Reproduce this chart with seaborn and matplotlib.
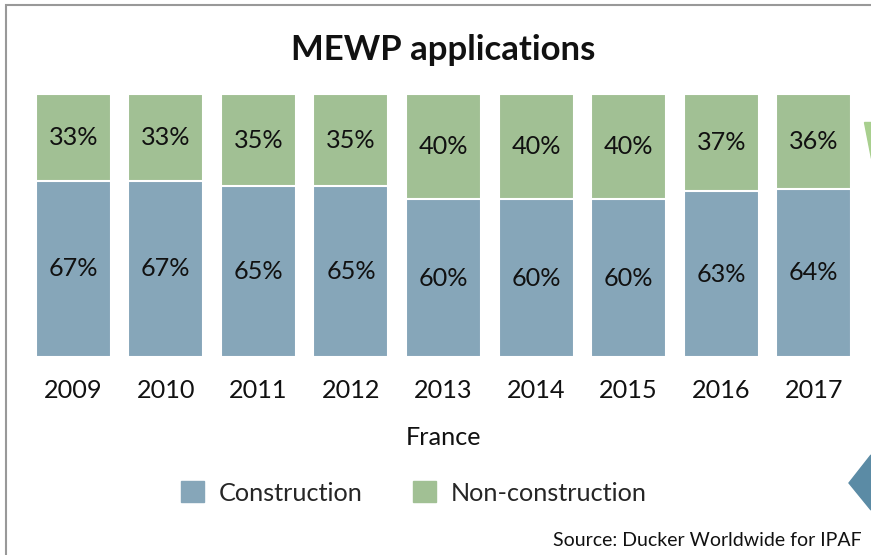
import matplotlib
matplotlib.use("Agg")
import matplotlib.pyplot as plt
import matplotlib.patches as mpatches
import seaborn as sns
import pandas as pd

years = ["2009", "2010", "2011", "2012", "2013", "2014", "2015", "2016", "2017"]
construction = [67, 67, 65, 65, 60, 60, 60, 63, 64]
non_construction = [33, 33, 35, 35, 40, 40, 40, 37, 36]

blue = "#86A6B9"
green = "#A1C094"

sns.set_theme(style="white")
plt.rcParams["font.family"] = ["Lato", "DejaVu Sans"]

df = pd.DataFrame({"year": years, "construction": construction,
                   "non_construction": non_construction})
df["total"] = df["construction"] + df["non_construction"]

W, H = 871, 555
fig = plt.figure(figsize=(W / 100, H / 100), dpi=100)
ax = fig.add_axes([27 / W, (H - 357) / H, 833 / W, 263 / H])

# full-height bars in green, construction share drawn over them
sns.barplot(data=df, x="year", y="total", color=green, width=0.81,
            saturation=1, edgecolor="white", linewidth=1.5, ax=ax)
sns.barplot(data=df, x="year", y="construction", color=blue, width=0.81,
            saturation=1, edgecolor="white", linewidth=1.5, ax=ax)

for i, (c, n) in enumerate(zip(construction, non_construction)):
    ax.text(i, c / 2, f"{c}%", ha="center", va="center", fontsize=18.2, color="#111111")
    ax.text(i, c + n / 2, f"{n}%", ha="center", va="center", fontsize=18.2, color="#111111")

ax.set_ylim(0, 100)
ax.set_xlim(-0.5, len(years) - 0.5)
ax.set_yticks([])
ax.set_ylabel("")
ax.set_xlabel("France", fontsize=18.2, labelpad=17, color="#111111")
ax.tick_params(axis="x", length=0, labelsize=18.2, pad=16, colors="#111111")
sns.despine(ax=ax, left=True, bottom=True)

fig.text(443 / W, 1 - 50 / H, "MEWP applications", ha="center", va="center",
         fontsize=25, fontweight="bold", color="#111111")

handles = [mpatches.Patch(color=blue, label="Construction"),
           mpatches.Patch(color=green, label="Non-construction")]
fig.legend(handles=handles, loc="center", bbox_to_anchor=(414 / W, 1 - 493 / H),
           ncol=2, frameon=False, fontsize=18.2, handlelength=0.9, handleheight=0.9,
           columnspacing=2.0, handletextpad=0.6)

fig.text(862 / W, 1 - 541 / H, "Source: Ducker Worldwide for IPAF", ha="right",
         va="center", fontsize=14, color="#111111")

# slide frame and corner shapes
fig.patches.append(mpatches.Rectangle((6 / W, -0.1), 1.2, 1 - 5 / H + 0.1,
                                      transform=fig.transFigure, fill=False,
                                      edgecolor="#999999", linewidth=1.5))
fig.patches.append(mpatches.Polygon([(864 / W, 1 - 122 / H), (871 / W, 1 - 122 / H),
                                     (871 / W, 1 - 158 / H)],
                                    transform=fig.transFigure, color="#A8CF8E"))
fig.patches.append(mpatches.Polygon([(849 / W, 1 - 483 / H), (871 / W, 1 - 455 / H),
                                     (871 / W, 1 - 510 / H)],
                                    transform=fig.transFigure, color="#5B8BA5"))

fig.savefig("out.png", dpi=100)
